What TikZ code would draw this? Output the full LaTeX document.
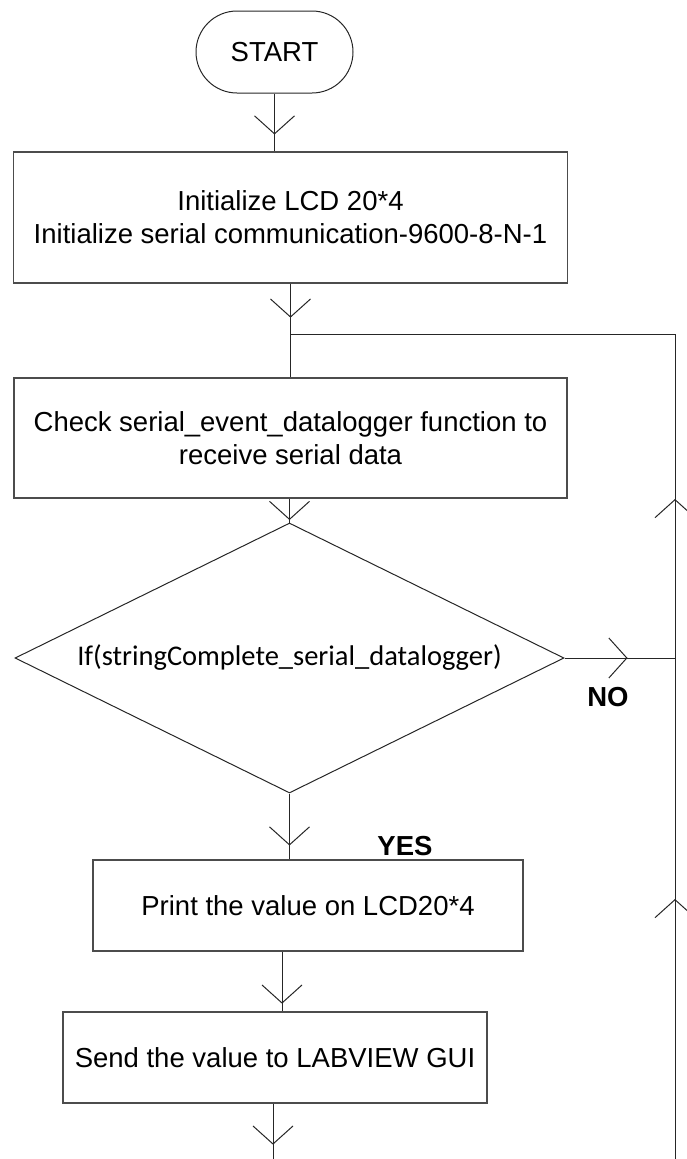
\documentclass[tikz,border=0pt]{standalone}
\usepackage{fontspec}
\setmainfont{Liberation Sans}
\newfontfamily\calfont{Carlito}
\usetikzlibrary{arrows.meta,shapes.geometric,decorations.markings,positioning}

\begin{document}
\begin{tikzpicture}[x=1pt,y=-1pt]

\tikzset{Box/.style = {draw=black!70, line width=1.3pt, inner sep=0pt, align=center,
    font=\fontsize{27.5}{33}\selectfont}}
\tikzset{Flow/.style = {draw=black!85, line width=1pt}}
\tikzset{Mid/.style = {postaction={decorate}, decoration={markings,
    mark=at position #1 with {\arrow[line width=1pt]{Straight Barb[length=18pt,width=40pt]}}}}}
\tikzset{VEnd/.style = {-{Straight Barb[length=18pt,width=40pt]}}}
\tikzset{Lbl/.style = {font=\fontsize{27.5}{33}\selectfont\bfseries}}

\useasboundingbox (0,0) rectangle (687,1159);

\node[Box, draw=black!85, line width=1pt, rounded corners=41pt, minimum width=157pt, minimum height=82pt] (start) at (274.5,52) {START};
\node[Box, minimum width=554pt, minimum height=131pt] (init) at (290.5,217.5) {Initialize LCD 20*4\\Initialize serial communication-9600-8-N-1};
\node[Box, minimum width=553pt, minimum height=120pt] (check) at (290.5,438) {Check serial\_event\_datalogger function to\\receive serial data};
\node[Box, draw=black!85, line width=1pt, diamond, shape aspect=2.03, minimum width=549pt, minimum height=270pt] (dec) at (289.5,658) {\calfont\fontsize{28.5}{34}\selectfont If(stringComplete\_serial\_datalogger)};
\node[Box, minimum width=430pt, minimum height=91pt] (print) at (308,905.5) {Print the value on LCD20*4};
\node[Box, minimum width=424pt, minimum height=91pt] (send) at (275,1057.5) {Send the value to LABVIEW GUI};

\node[Lbl] (no) at (608,697) {NO};
\node[Lbl] (yes) at (405,846) {YES};

\coordinate (lt) at (675,334);
\coordinate (lb) at (675,1159);
\coordinate (end) at (273,1159);
\coordinate (dtop) at (289.5,520);

\draw[Flow, Mid=41pt] (start.south) -- (start.south |- init.north);
\draw[Flow, Mid=34pt] (init.south) -- (init.south |- check.north);
\draw[Flow, VEnd] (check.south -| dtop) -- (dtop);
\draw[Flow] (dtop) -- (dec.north);
\draw[Flow, Mid=52pt] (dec.south) -- (dec.south |- print.north);
\draw[Flow, Mid=52pt] ([xshift=-26pt]print.south) -- ([xshift=-26pt]print.south |- send.north);
\draw[Flow, Mid=41pt] (send.south -| end) -- (end);
\draw[Flow, Mid=63pt] (dec.east) -- (dec.east -| lt);
\draw[Flow, Mid=260pt] (lb) -- (lt);
\draw[Flow, Mid=660pt] (lb) -- (lt) -- (init.south |- lt);

\end{tikzpicture}
\end{document}
